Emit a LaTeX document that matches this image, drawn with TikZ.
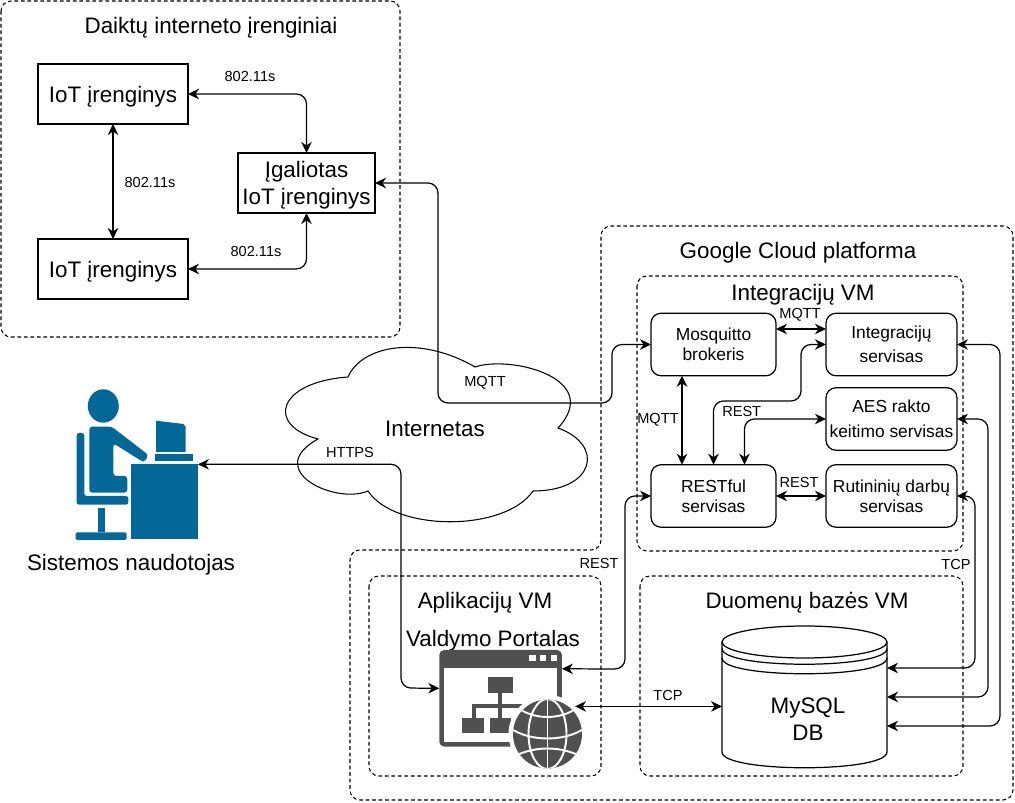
\documentclass[tikz,border=0pt]{standalone}
\usepackage{fontspec}
\setmainfont{Liberation Sans}
\usepackage{xcolor}
\usetikzlibrary{arrows.meta,positioning}
\definecolor{UserBlue}{HTML}{036897}
\definecolor{PortalGrey}{HTML}{505050}

\begin{document}
\begin{tikzpicture}[
  x=0.02cm, y=-0.02cm,
  group/.style={draw=black, line width=0.6pt, rounded corners=0.2cm, dash pattern=on 0.075cm off 0.055cm},
  device/.style={draw=black, line width=0.8pt, inner sep=0pt, outer sep=0pt, minimum width=#1, minimum height=1.2cm, align=center, text depth=0pt, font=\fontsize{12.75}{15.4}\selectfont},
  service/.style={draw=black, line width=0.7pt, rounded corners=0.2cm, inner sep=0pt, outer sep=0pt, minimum width=#1, minimum height=1.25cm, align=center, text depth=0pt, font=\fontsize{9.9}{11.4}\selectfont},
  title/.style={inner sep=0pt, align=center, text depth=0pt, font=\fontsize{12.75}{15.4}\selectfont},
  proto/.style={inner sep=0pt, font=\fontsize{8.3}{10}\selectfont},
  link/.style={{Stealth[length=2.2mm,width=2.1mm,inset=0.7mm]}-{Stealth[length=2.2mm,width=2.1mm,inset=0.7mm]}, line width=0.7pt, rounded corners=0.2cm},
  usericon/.style={fill=UserBlue},
  portalicon/.style={fill=PortalGrey}
]
\useasboundingbox (0,0) rectangle (1015,803);

\draw[group] (1,1) rectangle (400,337);
\draw[group] (601,400) -- (601,226) -- (1013,226) -- (1013,800) -- (350,800) -- (350,550) -- (601,550) -- cycle;
\draw[group] (637,276) rectangle (963,551);
\draw[group] (369,576) rectangle (601,776);
\draw[group] (640,576) rectangle (963,776);

\node[title] (iotgroup) at (211,25) {Daiktų interneto įrenginiai};
\node[title] (cloudgroup) at (798,250) {Google Cloud platforma};
\node[title] (intvm) at (803,292) {Integracijų VM};
\node[title] (appvm) at (485,600) {Aplikacijų VM};
\node[title] (dbvm) at (807,600) {Duomenų bazės VM};
\node[title] (portaltitle) at (493,638) {Valdymo Portalas};
\node[title] (usertitle) at (131,562) {Sistemos naudotojas};

\draw[line width=0.6pt] (348,377) .. controls (362,345) and (420,335) .. (475,367)
  .. controls (510,355) and (604,378) .. (558,428)
  .. controls (605,445) and (595,491) .. (533,491)
  .. controls (505,532) and (395,532) .. (368,491)
  .. controls (335,505) and (262,470) .. (318,439)
  .. controls (265,425) and (278,382) .. (348,377) -- cycle;
\node[title] (internet) at (435,429) {Internetas};

\node[device=3cm] (iotA) at (113,94) {IoT įrenginys};
\node[device=3cm, below=2.3cm of iotA] (iotB) {IoT įrenginys};
\node[device=2.74cm] (gateway) at (306.5,183) {Įgaliotas\\IoT įrenginys};

\node[service=2.5cm] (mosquitto) at (713.5,344.5) {Mosquitto\\brokeris};
\node[service=2.62cm, right=1cm of mosquitto] (integ) {Integracijų\\[0.08cm]servisas};
\node[service=2.62cm, below=0.24cm of integ] (aes) {AES rakto\\[0.1cm]keitimo servisas};
\node[service=2.5cm, below=1.78cm of mosquitto] (rest) {RESTful\\servisas};
\node[service=2.62cm, right=1cm of rest] (routine) {Rutininių darbų\\servisas};

\node[inner sep=0pt, outer sep=0pt, minimum width=3.3cm, minimum height=2.84cm] (db) at (804.5,697) {};
\draw[line width=0.7pt] (722,642) -- (722,752) .. controls (722,773) and (887,773) .. (887,752) -- (887,642);
\draw[line width=0.7pt] (804.5,642) ellipse [x radius=82.5, y radius=16];
\draw[line width=0.7pt] (722,648.5) .. controls (722,669.5) and (887,669.5) .. (887,648.5);
\draw[line width=0.7pt] (722,658) .. controls (722,679) and (887,679) .. (887,658);
\node[title] (dbtext) at (808,719) {MySQL\\DB};
\coordinate (dbtop) at (887,668);
\coordinate (dbbottom) at (887,726);

\node[portalicon, rounded corners=0.1cm, inner sep=0pt, outer sep=0pt, minimum width=2.454cm, minimum height=1.934cm] (portal) at (500.6,698.3) {};
\fill[white] (444.3,668.3) rectangle (556.7,741.7);
\fill[white] (529.3,655) rectangle (535.7,660.7);
\fill[white] (540,655) rectangle (546.3,660.7);
\fill[white] (550.7,655) rectangle (556.7,660.7);
\fill[portalicon] (488,676.7) rectangle (513,692.7);
\fill[portalicon] (498.3,692.7) rectangle (502.3,718.3);
\fill[portalicon] (471.7,704) rectangle (523,708.3);
\fill[portalicon] (471.7,704) rectangle (475.7,718.3);
\fill[portalicon] (462.3,718.3) rectangle (484,732.7);
\fill[portalicon] (489.7,718.3) rectangle (511,732.7);
\node[circle, fill=white, inner sep=0pt, outer sep=0pt, minimum size=1.56cm] (globe) at (547.5,734) {};
\fill[portalicon] (globe.center) circle [radius=34.5];
\begin{scope}[white, line width=1.1pt]
\clip (globe.center) circle [radius=34.5];
\draw (547.5,699) -- (547.5,769);
\draw (547.5,734) ellipse [x radius=19, y radius=35];
\draw (518,708) .. controls (535,720) and (560,720) .. (577,708);
\draw (510,728) .. controls (530,742) and (565,742) .. (585,728);
\draw (515,756) .. controls (535,746) and (560,746) .. (580,756);
\end{scope}

\node[usericon, inner sep=0pt, outer sep=0pt, minimum width=1.34cm, minimum height=1.5cm] (desk) at (164.5,501.8) {};
\fill[usericon] (103.3,406) ellipse [x radius=15.5, y radius=16.7];
\fill[usericon] (156,420.7) -- (183.5,424) -- (185.7,427) -- (185.7,452) -- (156,452) -- cycle;
\fill[usericon] (155,454.3) rectangle (193.3,460.7);
\fill[usericon, rounded corners=0.06cm] (89.3,492.7) -- (89.3,426.7) -- (111.7,426.7) -- (148.5,455) -- (144.5,462) -- (141.5,461) -- (113.3,443.3) -- (113.3,476) -- (127.3,476) -- (127.3,492.7) -- cycle;
\fill[usericon, rounded corners=0.05cm] (76.7,504.7) -- (76.7,433) -- (84.3,433) -- (84.3,496) -- (128.3,496) -- (128.3,504.7) -- cycle;
\fill[usericon] (97.7,508.3) rectangle (104.7,532.3);
\fill[usericon, rounded corners=0.03cm] (75.7,532.3) rectangle (126.7,540);

\coordinate (mqttA) at (438,403);
\coordinate (mqttB) at (612,403);
\coordinate (restbend) at (801,401);
\coordinate (restout) at (625,669);
\coordinate (httpsbend) at (401,688);

\draw[link] (iotA.east) -| (gateway.north);
\draw[link] (iotB.east) -| (gateway.south);
\draw[link] (iotA) -- (iotB);
\draw[link] (gateway.east) -| (mqttA) -- (mqttB) |- (mosquitto.west);
\draw[link] ([yshift=0.31cm]mosquitto.east) -- ([yshift=0.31cm]integ.west);
\draw[link] ([xshift=-0.63cm]mosquitto.south) -- ([xshift=-0.63cm]rest.north);
\draw[link] (rest.north) |- (restbend) |- (integ.west);
\draw[link] ([xshift=0.62cm]rest.north) |- (aes.west);
\draw[link] (rest.east) -- (routine.west);
\draw[link] (rest.west) -| (restout) -- ([yshift=0.59cm]portal.east);
\draw[link] (desk.north east) -| (httpsbend) -- ([yshift=0.2cm]portal.west);
\draw[link] (globe.45) -- (globe.45 -| db.west);
\draw[link] (routine.east) -| (975,668) -- (dbtop);
\draw[link] (aes.east) -| (988,697) -- (db.east);
\draw[link] (integ.east) -| (1000,726) -- (dbbottom);

\node[proto] (lblA) at (250,76) {802.11s};
\node[proto] (lblB) at (150,182.7) {802.11s};
\node[proto] (lblC) at (256,251) {802.11s};
\node[proto] (lblD) at (485,382.7) {MQTT};
\node[proto] (lblE) at (350,452.7) {HTTPS};
\node[proto] (lblF) at (800,315) {MQTT};
\node[proto] (lblG) at (658,420) {MQTT};
\node[proto] (lblH) at (741.7,411) {REST};
\node[proto] (lblI) at (799,482.7) {REST};
\node[proto] (lblJ) at (599,563) {REST};
\node[proto] (lblK) at (956,564) {TCP};
\node[proto] (lblL) at (668,695) {TCP};
\end{tikzpicture}
\end{document}
